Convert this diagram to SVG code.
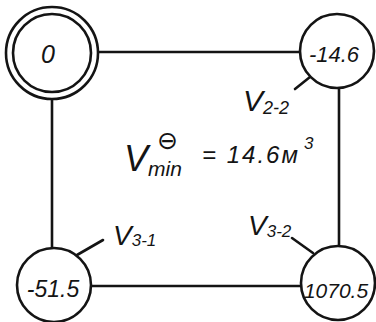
<svg xmlns="http://www.w3.org/2000/svg" width="376" height="322" viewBox="0 0 376 322">
<style>
.ln{stroke:#141414;stroke-width:2.6;fill:none;stroke-linecap:round}
.nd{stroke:#141414;stroke-width:2.6;fill:#fff}
.t{font-family:"Liberation Sans","DejaVu Sans",sans-serif;font-style:italic;fill:#141414}
</style>
<rect width="376" height="322" fill="#fff"/>
<g id="connectors">
<line class="ln" x1="98" y1="52" x2="301" y2="52"/>
<line class="ln" x1="52" y1="99" x2="52" y2="249"/>
<line class="ln" x1="91" y1="286" x2="301" y2="286"/>
<line class="ln" x1="339" y1="88" x2="339" y2="246"/>
<line class="ln" x1="295" y1="89" x2="310" y2="77"/>
<line class="ln" x1="77" y1="255" x2="103" y2="240"/>
<line class="ln" x1="292" y1="238" x2="313" y2="253"/>
</g>
<g id="node-0">
<circle class="nd" cx="52" cy="53" r="46"/>
<circle class="nd" cx="52" cy="53" r="39"/>
<text class="t" x="48" y="63" font-size="25" text-anchor="middle">0</text>
</g>
<g id="node-2-2">
<circle class="nd" cx="337" cy="51" r="37"/>
<text class="t" x="334" y="62" font-size="22" text-anchor="middle">-14.6</text>
</g>
<g id="node-3-1">
<circle class="nd" cx="54" cy="285" r="37"/>
<text class="t" x="53" y="297" font-size="23" text-anchor="middle">-51.5</text>
</g>
<g id="node-3-2">
<circle class="nd" cx="338" cy="283" r="37"/>
<text class="t" x="336" y="298" font-size="21" text-anchor="middle">1070.5</text>
</g>
<g id="labels">
<text class="t" x="243" y="111" font-size="30">V<tspan font-size="18" dy="3">2-2</tspan></text>
<text class="t" x="113" y="245" font-size="28">V<tspan font-size="17" dy="1">3-1</tspan></text>
<text class="t" x="248" y="235" font-size="28">V<tspan font-size="17" dy="2">3-2</tspan></text>
<text class="t" x="124" y="171" font-size="36">V<tspan x="148" y="176" font-size="21">min</tspan><tspan x="157" y="149" font-size="25" font-style="normal">⊖</tspan><tspan x="202" y="163" font-size="24" letter-spacing="2">= 14.6м</tspan><tspan x="304" y="149" font-size="17">3</tspan></text>
</g>
</svg>
